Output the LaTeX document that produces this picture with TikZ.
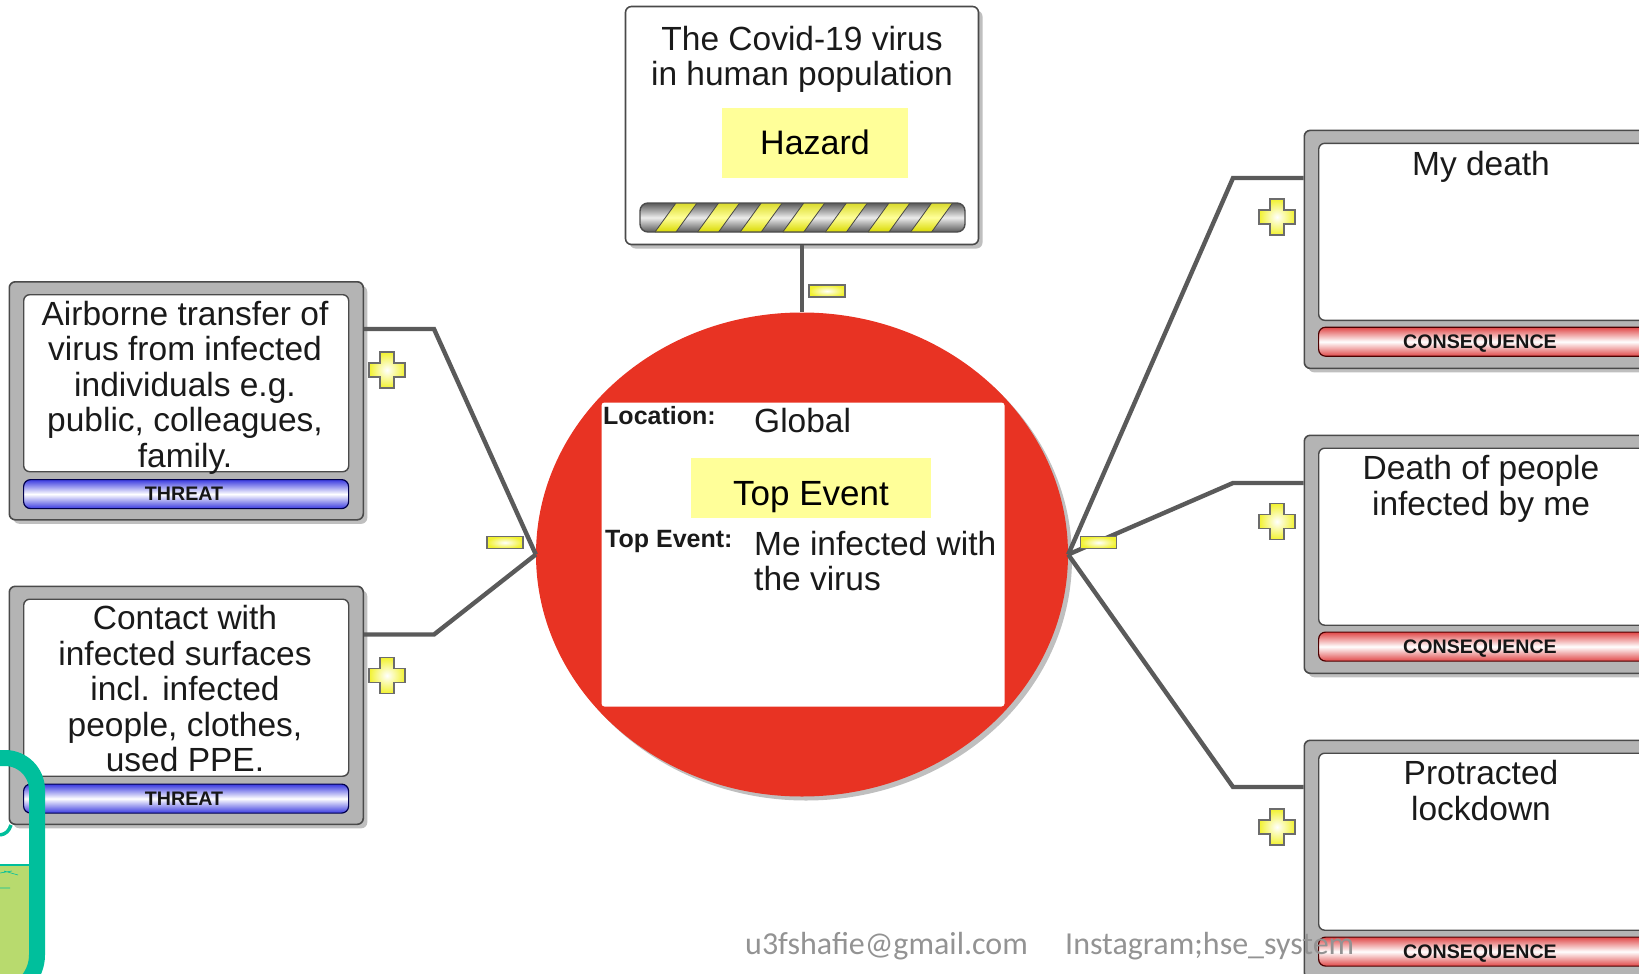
\documentclass[tikz,border=0pt]{standalone}
\usepackage{fontspec}
\setmainfont{Liberation Sans}
\newfontfamily\wmfont{Carlito}
\usetikzlibrary{shadows,calc,shapes.geometric}
\definecolor{framegray}{HTML}{B4B4B4}
\definecolor{edgegray}{HTML}{4A4A4A}
\definecolor{connector}{HTML}{5A5A5A}
\definecolor{stickyyellow}{HTML}{FFFF99}
\definecolor{circlered}{HTML}{E83323}
\definecolor{tealband}{HTML}{00BF9C}
\definecolor{leafgreen}{HTML}{B8DA6E}
\definecolor{threatblue}{HTML}{3A3AE0}
\definecolor{conred}{HTML}{E04848}
\definecolor{textdark}{HTML}{1A1A1A}
\definecolor{markyellow}{HTML}{F2F230}
\tikzset{
  softshadow/.style={drop shadow={shadow xshift=4pt,shadow yshift=-4pt,fill=black,opacity=.25}},
  frame/.style={draw=edgegray,line width=1.6pt,fill=framegray,rounded corners=6pt,softshadow},
  inner/.style={draw=edgegray,line width=1.4pt,fill=white,rounded corners=6pt},
  boxtext/.style={font=\fontsize{33.5}{35.5}\selectfont,text=textdark,align=center,anchor=north,inner sep=0pt},
  barthreat/.style={draw=black!70!blue,line width=1.2pt,rounded corners=7pt,top color=threatblue,bottom color=threatblue,middle color=white},
  barcons/.style={draw=black!70!red,line width=1.2pt,rounded corners=7pt,top color=conred,bottom color=conred,middle color=white},
  bartext/.style={font=\fontsize{19.6}{22}\bfseries\selectfont,text=textdark!85!black,inner sep=0pt},
  fieldlabel/.style={anchor=base west,inner sep=0pt,font=\fontsize{25}{27}\bfseries\selectfont,text=textdark},
  notetext/.style={anchor=base,inner sep=0pt,text=black},
  link/.style={draw=connector,line width=4.4pt,line join=miter},
  minusmark/.style={draw=gray!85!black,line width=1.8pt,inner color=white,outer color=markyellow,minimum width=36pt,minimum height=12pt,inner sep=0pt},
  stickynote/.style={fill=stickyyellow,inner sep=0pt},
}
\newcommand{\plusmark}[2]{%
  \draw[draw=gray!85!black,line width=1.8pt,inner color=white,outer color=markyellow,shift={(#1,#2)}]
   (-7,-18)--(7,-18)--(7,-7)--(18,-7)--(18,7)--(7,7)--(7,18)--(-7,18)--(-7,7)--(-18,7)--(-18,-7)--(-7,-7)--cycle;}
\begin{document}
\begin{tikzpicture}[x=1pt,y=-1pt]
\useasboundingbox (0,0) rectangle (1639,974);
\clip (0,0) rectangle (1639,974);

% connectors
\coordinate (tl1) at (434,329);
\coordinate (tl2) at (434,634.5);
\coordinate (cl1) at (1233,178);
\coordinate (cl2) at (1233,483);
\coordinate (cl3) at (1233,787);

% central circle
\node[ellipse,minimum width=532pt,minimum height=484pt,inner sep=0pt,fill=circlered,softshadow] (top) at (802,554.5) {};
\node[fill=white,rounded corners=3pt,minimum width=403pt,minimum height=304pt,inner sep=0pt] (topbox) at (803,554.5) {};
\node[stickynote,minimum width=240pt,minimum height=60pt] (topnote) at (811,488) {};
\node[notetext,font=\fontsize{35}{38}\selectfont] (topnotetext) at (811,505) {Top Event};
\node[fieldlabel] (loclab) at (603,424) {Location:};
\node[anchor=base west,inner sep=0pt,font=\fontsize{33.5}{35}\selectfont,text=textdark] (locval) at (754,432) {Global};
\node[fieldlabel] (toplab) at (605,547) {Top Event:};
\node[anchor=north west,inner sep=0pt,align=left,font=\fontsize{33.5}{35.5}\selectfont,text=textdark] (topval) at (754,531) {Me infected with\\the virus};

% hazard
\node[frame,draw=edgegray,fill=white,minimum width=353pt,minimum height=238pt,inner sep=0pt] (haz) at (802,125.5) {};
\node[boxtext] (haztext) at (802,26) {The Covid-19 virus\\in human population};
\node[stickynote,minimum width=186pt,minimum height=70pt] (haznote) at (815,143) {};
\node[notetext,font=\fontsize{34}{36}\selectfont] (haznotetext) at (815,154) {Hazard};
\begin{scope}
  \path[clip,rounded corners=8pt] (640,203) rectangle (965,232);
  \fill[top color=gray!70!black,bottom color=gray!70!black,middle color=white!85!gray] (640,203) rectangle (965,232);
  \foreach \k in {0,...,6}{
    \fill[top color=markyellow!90!black,bottom color=yellow!85!black,middle color=yellow!40!white]
      ({655+\k*42.6},232) -- ({676+\k*42.6},232) -- ({697+\k*42.6},203) -- ({676+\k*42.6},203) -- cycle;
    \draw[edgegray,line width=.8pt] ({655+\k*42.6},232) -- ({676+\k*42.6},203) ({676+\k*42.6},232) -- ({697+\k*42.6},203);
  }
\end{scope}
\node[draw=black!70,line width=1.4pt,rounded corners=8pt,minimum width=325pt,minimum height=29pt,inner sep=0pt] (hazbar) at (802.5,217.5) {};
\draw[link] (haz.south -| top.north) -- (top.north);

% threats
\foreach \n/\y/\t in {a/281/{Airborne transfer of\\virus from infected\\individuals e.g.\\public, colleagues,\\family.},
                      b/585.5/{Contact with\\infected surfaces\\incl. infected\\people, clothes,\\used PPE.}}{
  \node[frame,minimum width=354pt,minimum height=238pt,inner sep=0pt,anchor=north west] (t\n) at (8.5,\y) {};
  \node[inner,minimum width=325pt,minimum height=177pt,inner sep=0pt,anchor=north west] (ti\n) at (23,\y+13) {};
  \node[barthreat,minimum width=325pt,minimum height=29pt,inner sep=0pt,anchor=north west] (tb\n) at (23,\y+198) {};
  \node[bartext] at (184,\y+213) {THREAT};
  \node[boxtext] at (185,\y+20) {\t};
}

% consequences
\foreach \n/\y/\t in {a/129.6/{My death},b/434.5/{Death of people\\infected by me},c/739.5/{Protracted\\lockdown}}{
  \node[frame,minimum width=360pt,minimum height=238pt,inner sep=0pt,anchor=north west] (c\n) at (1303.5,\y) {};
  \node[inner,minimum width=340pt,minimum height=177pt,inner sep=0pt,anchor=north west] (ci\n) at (1318,\y+13) {};
  \node[barcons,minimum width=340pt,minimum height=29pt,inner sep=0pt,anchor=north west] (cb\n) at (1318,\y+197) {};
  \node[bartext] at (1480,\y+214) {CONSEQUENCE};
  \node[boxtext] at (1481,\y+21) {\t};
}

% links
\draw[link] (ta.east |- tl1) -- (tl1) -- (top.west);
\draw[link] (tb.east |- tl2) -- (tl2) -- (top.west);
\draw[link] (top.east) -- (cl1) -- (ca.west |- cl1);
\draw[link] (top.east) -- (cl2) -- (cb.west |- cl2);
\draw[link] (top.east) -- (cl3) -- (cc.west |- cl3);

% markers
\node[minusmark] (m1) at (827,291) {};
\node[minusmark] (m2) at (505,542.5) {};
\node[minusmark] (m3) at (1098.5,542.5) {};
\plusmark{387}{370}
\plusmark{387}{675.5}
\plusmark{1277}{217}
\plusmark{1277}{521.5}
\plusmark{1277}{827}

% watermark
\node[anchor=base west,inner sep=0pt,font=\wmfont\fontsize{32}{34}\selectfont,text=gray!85] (wm1) at (745,954) {u3fshafie@gmail.com};
\node[anchor=base west,inner sep=0pt,font=\wmfont\fontsize{32}{34}\selectfont,text=gray!85] (wm2) at (1065,954) {Instagram;hse\_system};

% teal corner
\fill[leafgreen] (0,865) rectangle (30,974);
\draw[tealband,line width=1.2pt] (0,865) -- (30,865);
\draw[tealband,line width=.6pt] (0,873) -- (12,871) (4,871) -- (18,875) (0,888) -- (10,888);
\draw[tealband,line width=16pt] (-10,758) -- (5,758) arc[start angle=-90,end angle=0,radius=32] -- (37,955) arc[start angle=0,end angle=40,radius=40];
\draw[tealband,line width=3.5pt] (0,835) .. controls (6,834) and (9,831) .. (11,825);
\end{tikzpicture}
\end{document}
